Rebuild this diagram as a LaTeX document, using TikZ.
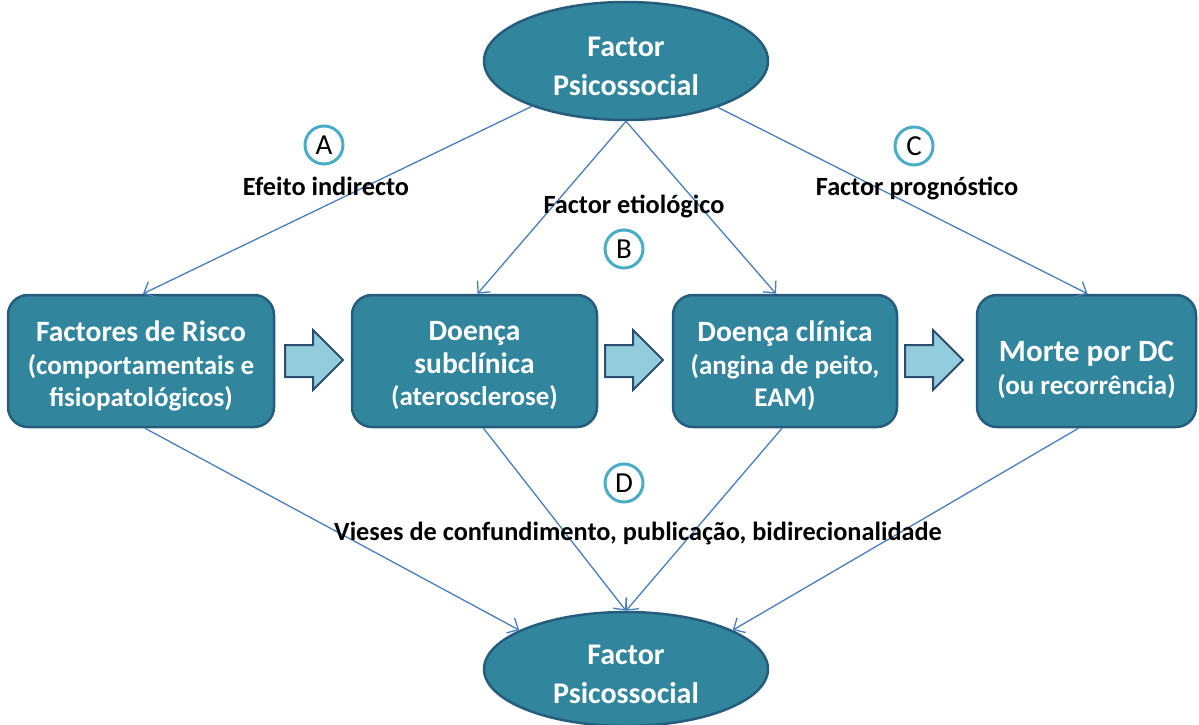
\documentclass[tikz,border=0pt]{standalone}
\usepackage{fontspec}
\setmainfont{Carlito}
\usetikzlibrary{arrows.meta,shapes.geometric,calc}
\definecolor{boxfill}{HTML}{31859C}
\definecolor{boxline}{HTML}{265D7C}
\definecolor{arrfill}{HTML}{93CDDD}
\definecolor{arrline}{HTML}{2A4D70}
\definecolor{connc}{HTML}{4A7EBB}
\definecolor{circc}{HTML}{4BACC6}
\newcommand{\subfs}{\fontsize{27}{32.5}\selectfont}
\newcommand{\pad}[1]{\rule{0pt}{#1pt}}
\begin{document}
\begin{tikzpicture}[x=1pt,y=-1pt,
  box/.style={draw=boxline, line width=2.5pt, fill=boxfill, rounded corners=20pt,
    text=white, font=\bfseries\fontsize{29.5}{32.5}\selectfont, align=center,
    minimum height=132pt, inner sep=0pt},
  ell/.style={ellipse, draw=boxline, line width=2.5pt, fill=boxfill,
    minimum width=284pt, text=white, align=center,
    inner sep=0pt, font=\bfseries\fontsize{30}{39}\selectfont},
  conn/.style={draw=connc, line width=1.3pt, -{Straight Barb[length=9pt,width=17pt]}},
  lab/.style={font=\bfseries\fontsize{26.3}{30}\selectfont, anchor=base, inner sep=0pt},
  circ/.style={circle, draw=circc, line width=3pt, minimum size=38pt, inner sep=0pt,
    font=\fontsize{29}{30}\selectfont},
  blk/.style={draw=arrline, line width=2pt, fill=arrfill, line join=miter}
]
\useasboundingbox (0,0) rectangle (1199,725);

% ellipses
\node[ell, minimum height=118pt] (top) at (626,61) {\pad{30}Factor\\Psicossocial};
\node[ell, minimum height=114pt] (bot) at (626,669) {\pad{30}Factor\\Psicossocial};

% boxes
\node[box, minimum width=266pt] (b1) at (141,361)
  {\pad{31}Factores de Risco\\{\subfs(comportamentais e}\\{\subfs fisiopatológicos)}};
\node[box, minimum width=245pt] (b2) at (474.5,361)
  {\pad{29}Doença\\subclínica\\{\subfs(aterosclerose)}};
\node[box, minimum width=224pt] (b3) at (785,361)
  {\pad{31}Doença clínica\\{\subfs(angina de peito,}\\{\subfs EAM)}};
\node[box, minimum width=219pt] (b4) at (1086.5,361)
  {\pad{38}{\fontsize{31}{32.5}\selectfont Morte por DC}\\{\subfs(ou recorrência)}};

% block arrows
\foreach \x in {285,605,905}{
  \draw[blk] (\x,345) -- (\x+28,345) -- (\x+28,330) -- (\x+58,360)
    -- (\x+28,390) -- (\x+28,377) -- (\x,377) -- cycle;
}

% connectors from top
\draw[conn] (top) -- ([xshift=2pt]b1.north);
\draw[conn] (top.south) -- ([xshift=3pt]b2.north);
\draw[conn] (top.south) -- ([xshift=-9pt]b3.north);
\draw[conn] (top) -- ([xshift=1pt]b4.north);

% connectors to bottom
\draw[conn] ([xshift=4pt]b1.south) -- (bot.160);
\draw[conn] ([xshift=9pt]b2.south) -- (bot.north);
\draw[conn] ([xshift=-3pt]b3.south) -- (bot.north);
\draw[conn] ([xshift=-8pt]b4.south) -- (bot.20);

% circled letters
\node[circ] (cA) at (324,145) {A};
\node[circ] (cB) at (624,249) {B};
\node[circ] (cC) at (914,146) {C};
\node[circ] (cD) at (624,483) {D};

% labels
\node[lab] (lA) at (326,195) {Efeito indirecto};
\node[lab] (lB) at (634,213) {Factor etiológico};
\node[lab] (lC) at (917,195) {Factor prognóstico};
\node[lab] (lD) at (638,540) {Vieses de confundimento, publicação, bidirecionalidade};
\end{tikzpicture}
\end{document}
